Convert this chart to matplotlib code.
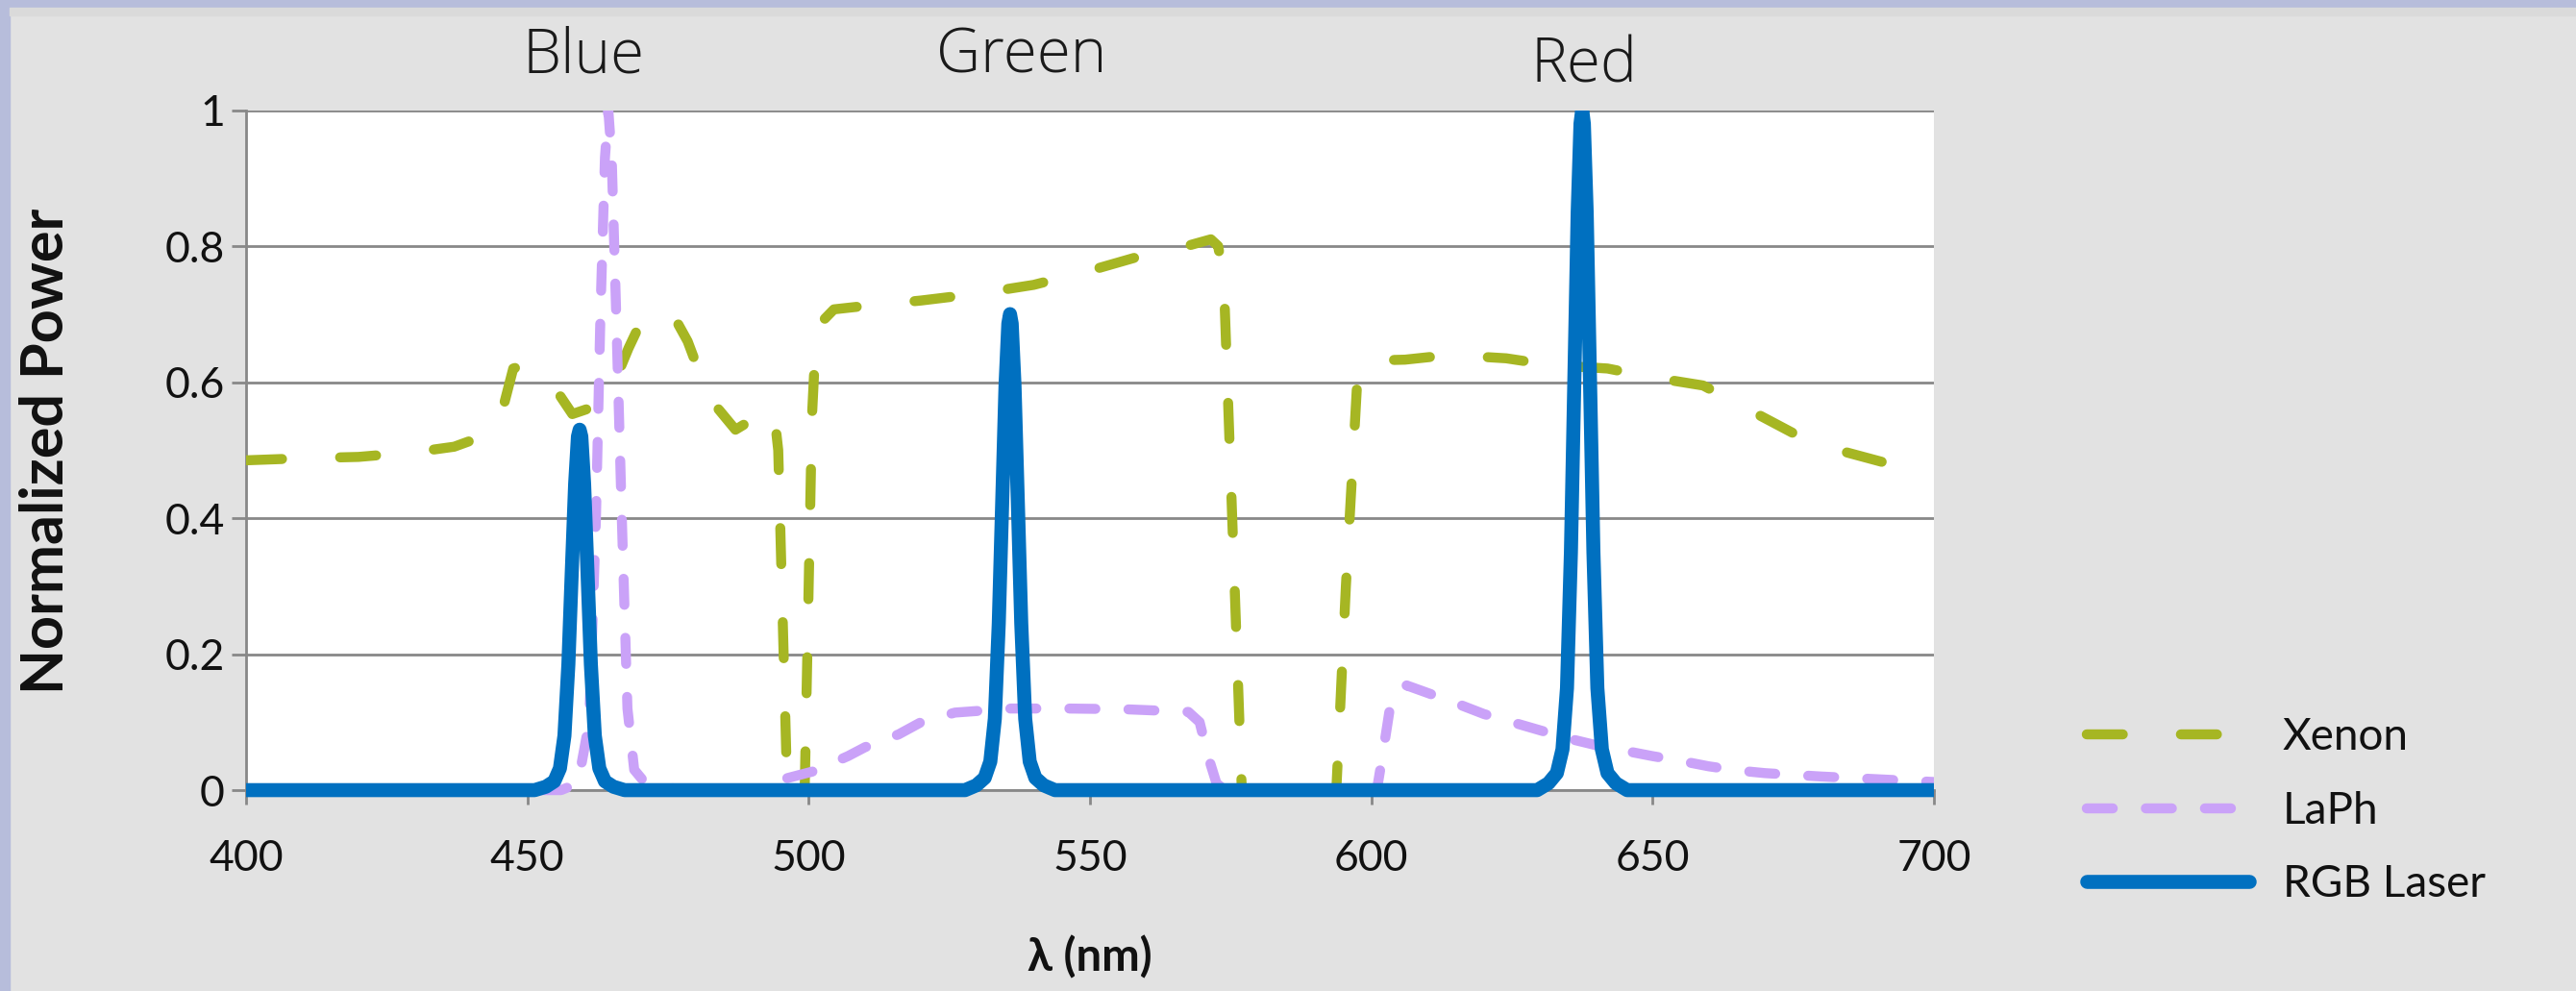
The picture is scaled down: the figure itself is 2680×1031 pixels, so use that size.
import matplotlib
matplotlib.use("Agg")
import matplotlib.pyplot as plt
from matplotlib.patches import Rectangle

plt.rcParams['font.family'] = ['Lato', 'DejaVu Sans']

# Xenon lamp spectrum
xenon_x = [400, 410, 420, 430, 437, 442, 445, 447.5, 449.5, 452, 455, 458, 460.5,
           463.5, 466, 468, 470, 472, 474.5, 476.5, 478.5, 481, 484, 487, 490, 492,
           494, 494.6, 496.2, 499.3, 500.6, 501.2, 502.5, 504.5, 510, 520, 530, 540,
           550, 558, 565, 571.5, 572.8, 573.8, 577, 593.8, 595.5, 597.6, 598.5, 601,
           606, 614, 624, 632, 642, 650, 659, 667, 675, 683, 692, 700]
xenon_y = [0.485, 0.488, 0.490, 0.497, 0.505, 0.52, 0.54, 0.62, 0.625, 0.612, 0.59,
           0.553, 0.56, 0.575, 0.61, 0.65, 0.685, 0.70, 0.705, 0.69, 0.66, 0.605,
           0.56, 0.53, 0.545, 0.563, 0.545, 0.50, 0.0, 0.0, 0.55, 0.65, 0.69, 0.707,
           0.712, 0.72, 0.73, 0.743, 0.764, 0.783, 0.795, 0.81, 0.80, 0.75, 0.0, 0.0,
           0.30, 0.614, 0.625, 0.632, 0.633, 0.64, 0.635, 0.625, 0.62, 0.607, 0.595,
           0.56, 0.525, 0.50, 0.48, 0.463]

# LaPh spectrum
laph_x = [400, 456, 459, 461, 462.2, 463, 463.8, 464.4, 465, 465.8, 466.8, 467.8,
          469, 471, 474, 478, 492, 495, 501, 507, 510, 516, 520, 526, 531, 536, 546,
          556, 562, 567.5, 569.5, 571, 572.5, 574, 601, 602, 603.5, 606.3, 610, 615,
          620, 625, 630, 635, 640, 645, 650, 655, 660, 665, 670, 680, 690, 700]
laph_y = [0.0, 0.0, 0.01, 0.1, 0.4, 0.7, 0.93, 1.0, 0.93, 0.7, 0.4, 0.12, 0.03,
          0.01, 0.005, 0.0, 0.0, 0.015, 0.028, 0.05, 0.063, 0.082, 0.10, 0.114,
          0.117, 0.12, 0.12, 0.119, 0.117, 0.115, 0.10, 0.05, 0.01, 0.0, 0.0, 0.05,
          0.13, 0.154, 0.143, 0.128, 0.112, 0.10, 0.088, 0.076, 0.066, 0.058, 0.05,
          0.043, 0.035, 0.029, 0.025, 0.02, 0.016, 0.012]

# RGB laser lines
laser_x = [400,
           451.3, 453.3, 454.8, 455.8, 456.6, 457.3, 457.9, 458.5, 459.0, 459.3,
           459.6, 460.1, 460.7, 461.3, 462.0, 462.8, 463.8, 465.3, 467.3,
           527.8, 529.8, 531.3, 532.3, 533.1, 533.8, 534.4, 535.0, 535.5, 535.8,
           536.1, 536.6, 537.2, 537.8, 538.5, 539.3, 540.3, 541.8, 543.8,
           629.5, 631.5, 633.0, 634.0, 634.8, 635.5, 636.1, 636.7, 637.2, 637.5,
           637.8, 638.3, 638.9, 639.5, 640.2, 641.0, 642.0, 643.5, 645.5,
           700]
laser_y = [0.0,
           0.0, 0.005, 0.013, 0.032, 0.08, 0.185, 0.32, 0.45, 0.52, 0.53,
           0.52, 0.45, 0.32, 0.185, 0.08, 0.032, 0.013, 0.005, 0.0,
           0.0, 0.007, 0.018, 0.042, 0.105, 0.245, 0.42, 0.595, 0.686, 0.70,
           0.686, 0.595, 0.42, 0.245, 0.105, 0.042, 0.018, 0.007, 0.0,
           0.0, 0.01, 0.025, 0.06, 0.15, 0.35, 0.6, 0.85, 0.98, 1.0,
           0.98, 0.85, 0.6, 0.35, 0.15, 0.06, 0.025, 0.01, 0.0,
           0.0]

band_labels = ["Blue", "Green", "Red"]
band_pos = [459.9, 537.9, 637.8]

xticks = [400, 450, 500, 550, 600, 650, 700]
yticks = [0, 0.2, 0.4, 0.6, 0.8, 1.0]
ytick_labels = ["0", "0.2", "0.4", "0.6", "0.8", "1"]

fig = plt.figure(figsize=(26.8, 10.31), dpi=100, facecolor='#e2e2e2')
# slide frame (left and top strips)
fig.patches.append(Rectangle((0, 0), 10 / 2680, 1, transform=fig.transFigure,
                             color='#b7bddb', zorder=0))
fig.patches.append(Rectangle((0, 1 - 8 / 1031), 1, 8 / 1031, transform=fig.transFigure,
                             color='#b7bddb', zorder=0))
fig.patches.append(Rectangle((10 / 2680, 1 - 16 / 1031), 1, 8 / 1031,
                             transform=fig.transFigure, color='#dadada', zorder=0))

ax = fig.add_axes([0.0955, 0.2027, 0.7507 - 0.0955, 0.8889 - 0.2027])
ax.set_facecolor('white')

clip = Rectangle((0, -0.06), 1, 1.06, transform=ax.transAxes, fill=False)

l1, = ax.plot(xenon_x, xenon_y, color='#a6b623', lw=7.5, label='Xenon',
              dashes=(3.6, 5.8), dash_capstyle='round', solid_capstyle='round', zorder=3)
l2, = ax.plot(laph_x, laph_y, color='#caa2f8', lw=7.5, label='LaPh',
              dashes=(2.6, 3.3), dash_capstyle='round', zorder=4)
l3, = ax.plot(laser_x, laser_y, color='#0070c0', lw=10.5, label='RGB Laser',
              solid_capstyle='round', solid_joinstyle='round', zorder=5)
for ln in (l1, l2, l3):
    ln.set_clip_path(clip)

ax.set_xlim(400, 700)
ax.set_ylim(0, 1)
ax.set_xticks(xticks)
ax.set_yticks(yticks)
ax.set_yticklabels(ytick_labels)

ax.grid(axis='y', color='#888888', linewidth=2)
ax.set_axisbelow(True)
for s in ['top', 'right']:
    ax.spines[s].set_visible(False)
for s in ['left', 'bottom']:
    ax.spines[s].set_color('#888888')
    ax.spines[s].set_linewidth(2)

ax.tick_params(axis='both', length=11, width=2, color='#888888', labelsize=32,
               labelcolor='#111111')
ax.tick_params(axis='x', pad=26)
ax.tick_params(axis='y', pad=5)

for lab, xp in zip(band_labels, band_pos):
    yy = 1.065 if lab == "Red" else 1.078
    ax.text(xp, yy, lab, transform=ax.get_xaxis_transform(), ha='center', va='center',
            fontsize=46, fontweight='light', color='#1a1a1a',
            family=['Open Sans', 'Lato', 'DejaVu Sans'])

fig.text(48 / 2680, 0.545, 'Normalized Power', rotation=90, ha='center', va='center',
         fontsize=44, fontweight='bold', color='#111111')
fig.text(0.4231, 0.034, 'λ (nm)', ha='center', va='center',
         fontsize=34, fontweight='bold', color='#111111')

ax.legend(loc='upper left', bbox_to_anchor=(0.810, 0.276), bbox_transform=fig.transFigure,
          frameon=False, fontsize=33, handlelength=3.7, handletextpad=0.75,
          labelspacing=0.75, borderpad=0, borderaxespad=0, labelcolor='#111111')

fig.savefig('out.png', dpi=100, facecolor=fig.get_facecolor())
